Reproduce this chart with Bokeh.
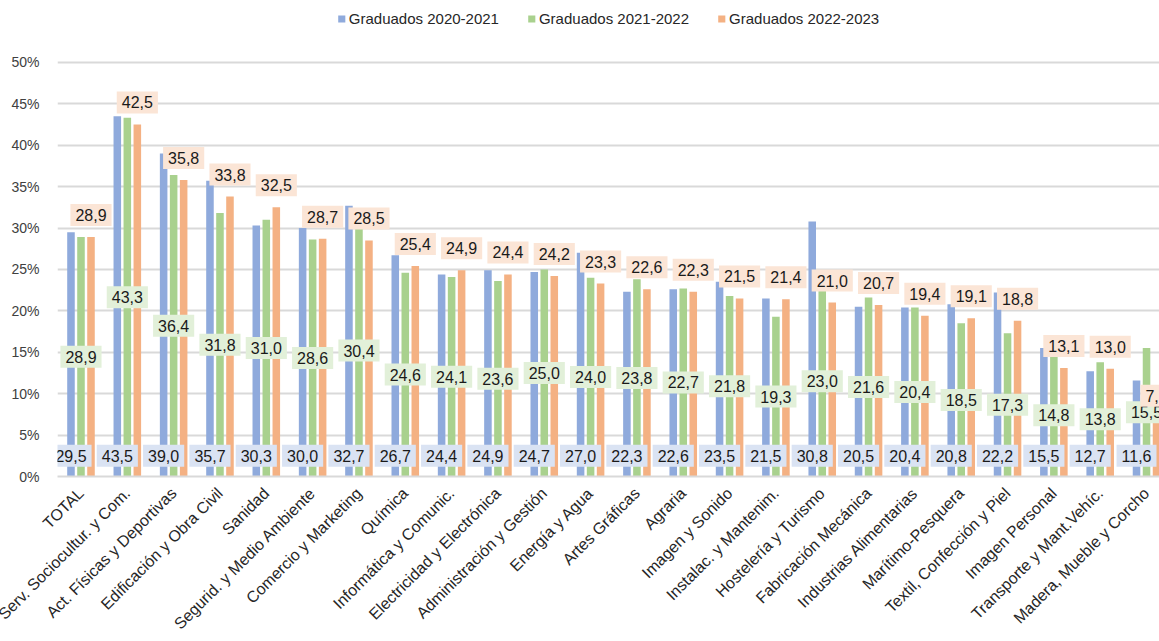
import numpy as np
from bokeh.plotting import figure
from bokeh.models import Range1d, FixedTicker, PrintfTickFormatter, Legend, LegendItem
from bokeh.core.properties import value
from bokeh.embed import file_html
from bokeh.resources import INLINE

categories = [
    "TOTAL", "Serv. Sociocultur. y Com.", "Act. Físicas y Deportivas",
    "Edificación y Obra Civil", "Sanidad", "Segurid. y Medio Ambiente",
    "Comercio y Marketing", "Química", "Informática y Comunic.",
    "Electricidad y Electrónica", "Administración y Gestión", "Energía y Agua",
    "Artes Gráficas", "Agraria", "Imagen y Sonido", "Instalac. y Mantenim.",
    "Hostelería y Turismo", "Fabricación Mecánica", "Industrias Alimentarias",
    "Marítimo-Pesquera", "Textil, Confección y Piel", "Imagen Personal",
    "Transporte y Mant.Vehíc.", "Madera, Mueble y Corcho",
]
grad_2020_2021 = [29.5, 43.5, 39.0, 35.7, 30.3, 30.0, 32.7, 26.7, 24.4, 24.9, 24.7, 27.0,
                  22.3, 22.6, 23.5, 21.5, 30.8, 20.5, 20.4, 20.8, 22.2, 15.5, 12.7, 11.6]
grad_2021_2022 = [28.9, 43.3, 36.4, 31.8, 31.0, 28.6, 30.4, 24.6, 24.1, 23.6, 25.0, 24.0,
                  23.8, 22.7, 21.8, 19.3, 23.0, 21.6, 20.4, 18.5, 17.3, 14.8, 13.8, 15.5]
grad_2022_2023 = [28.9, 42.5, 35.8, 33.8, 32.5, 28.7, 28.5, 25.4, 24.9, 24.4, 24.2, 23.3,
                  22.6, 22.3, 21.5, 21.4, 21.0, 20.7, 19.4, 19.1, 18.8, 13.1, 13.0, 7.1]
series_names = ["Graduados 2020-2021", "Graduados 2021-2022", "Graduados 2022-2023"]
y_ticks = [0, 5, 10, 15, 20, 25, 30, 35, 40, 45, 50]

FONT = "Liberation Sans"
BAR_COLORS = ["#8faadc", "#a9d18e", "#f4b183"]
BOX_COLORS = ["#dae3f3", "#e2f0d9", "#fbe5d6"]
TXT = "#1a1a1a"

n = len(categories)
idx = np.arange(n)
off = 0.216
bw = 0.163

# the frame reaches the top of the figure so the legend can sit above the 50% line
p = figure(width=1159, height=641, output_backend="svg", toolbar_location=None,
           x_range=Range1d(-0.507, 23.28), y_range=Range1d(0, 56.5),
           min_border_left=57, min_border_right=0, min_border_top=8, min_border_bottom=164)
p.outline_line_color = None
p.background_fill_color = "white"

xs = [idx - off, idx, idx + off]
series = [grad_2020_2021, grad_2021_2022, grad_2022_2023]
renderers = []
for x, vals, col in zip(xs, series, BAR_COLORS):
    r = p.vbar(x=x, top=vals, width=bw, fill_color=col, line_color=None)
    renderers.append(r)

def fmt(v):
    return f"{v:.1f}".replace(".", ",")

common = dict(text_align="center", text_baseline="middle", text_font=value(FONT),
              text_font_size="16px", text_color=TXT, padding=5)
# blue: near the base
p.text(x=xs[0], y=[2.5] * n, text=[fmt(v) for v in grad_2020_2021],
       background_fill_color=BOX_COLORS[0], **common)
# green: centered in bar
p.text(x=xs[1], y=[v / 2 for v in grad_2021_2022], text=[fmt(v) for v in grad_2021_2022],
       background_fill_color=BOX_COLORS[1], **common)
# orange: above bar end
p.text(x=xs[2], y=grad_2022_2023, text=[fmt(v) for v in grad_2022_2023],
       background_fill_color=BOX_COLORS[2], y_offset=-22, **common)

p.xaxis.ticker = FixedTicker(ticks=list(range(n)))
p.xaxis.major_label_overrides = {i: c for i, c in enumerate(categories)}
p.xaxis.major_label_orientation = np.pi / 4
p.xaxis.axis_line_color = "#d9d9d9"
p.xaxis.axis_line_width = 2
p.xaxis.major_tick_line_color = None
p.xaxis.minor_tick_line_color = None
p.xaxis.major_label_standoff = 8
p.xaxis.major_label_text_font = FONT
p.xaxis.major_label_text_font_size = "16px"
p.xaxis.major_label_text_color = "#262626"

p.yaxis.ticker = FixedTicker(ticks=y_ticks)
p.yaxis.formatter = PrintfTickFormatter(format="%d%%")
p.yaxis.axis_line_color = None
p.yaxis.major_tick_line_color = None
p.yaxis.minor_tick_line_color = None
p.yaxis.major_label_standoff = 12
p.yaxis.major_label_text_font = FONT
p.yaxis.major_label_text_font_size = "14px"
p.yaxis.major_label_text_color = "#404040"

p.xgrid.grid_line_color = None
p.ygrid.ticker = FixedTicker(ticks=y_ticks)
p.ygrid.grid_line_color = "#d9d9d9"
p.ygrid.grid_line_width = 2

legend = Legend(items=[LegendItem(label=nm, renderers=[r]) for nm, r in zip(series_names, renderers)],
                orientation="horizontal", location="top_center",
                glyph_width=9, glyph_height=9, label_height=20, label_standoff=3, spacing=28,
                padding=2, margin=0, border_line_color=None, background_fill_alpha=0,
                label_text_font=FONT, label_text_font_size="15px", label_text_color="#262626")
p.add_layout(legend)

open("out.html", "w").write(file_html(p, INLINE))
